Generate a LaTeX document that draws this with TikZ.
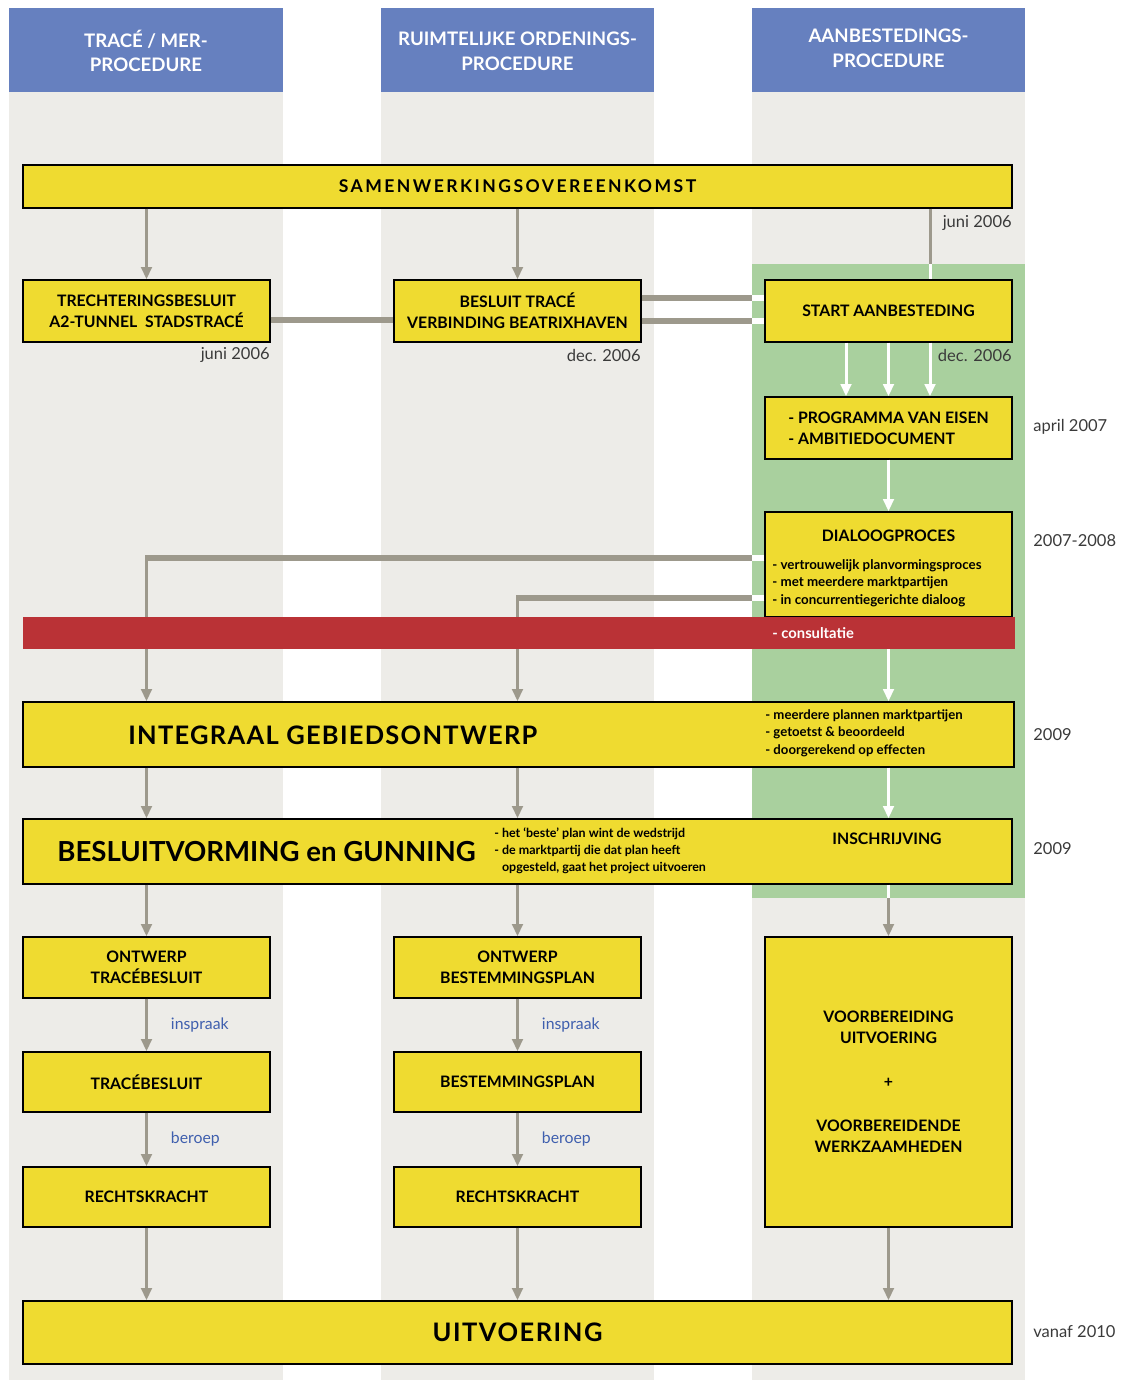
\documentclass[tikz,border=0pt]{standalone}
\usepackage{fontspec}
\setmainfont{Lato}
\usetikzlibrary{arrows.meta,positioning}
\definecolor{kolom}{HTML}{EDECE8}
\definecolor{kop}{HTML}{6680BF}
\definecolor{geel}{HTML}{EFDB30}
\definecolor{groen}{HTML}{A9D09E}
\definecolor{rood}{HTML}{BA3236}
\definecolor{lijn}{HTML}{9D998C}
\definecolor{blauw}{HTML}{3F5FAE}
\definecolor{datumkleur}{HTML}{3A3A3A}

\begin{document}
\begin{tikzpicture}[x=0.02cm,y=-0.02cm,
  blok/.style={draw=black,line width=0.8pt,fill=geel,inner sep=0pt,align=center,
    font=\bfseries\fontsize{9}{12}\selectfont},
  klein/.style={blok,minimum width=4.94cm,minimum height=1.24cm},
  breed/.style={blok,minimum width=19.78cm,minimum height=1.3cm},
  koptekst/.style={text=white,align=center,font=\bfseries\fontsize{10.6}{14}\selectfont},
  groot/.style={anchor=west,inner sep=0pt,font=\bfseries\fontsize{14.5}{18}\selectfont\addfontfeatures{LetterSpace=5}},
  punten/.style={anchor=west,inner sep=0pt,align=left,font=\bfseries\fontsize{7.6}{10}\selectfont},
  datum/.style={inner sep=0pt,text=datumkleur,font=\fontsize{9.4}{10}\selectfont},
  inspr/.style={anchor=west,inner sep=0pt,xshift=0.46cm,text=blauw,font=\fontsize{9}{10}\selectfont},
  pijl/.style={draw=lijn,line width=1.7pt,-{Triangle[width=6pt,length=7pt]}},
  wpijl/.style={pijl,draw=white},
  dunlijn/.style={draw=lijn,line width=1.7pt},
  wdunlijn/.style={draw=white,line width=1.7pt},
  balk/.style={draw=lijn,line width=3.4pt},
  wbalk/.style={draw=white,line width=3.4pt}]
\useasboundingbox (0,0) rectangle (1120,1380);

\foreach \xa/\xb in {9/283,381/654,752/1025} {
  \fill[kolom] (\xa,92) rectangle (\xb,1380);
  \fill[kop] (\xa,8) rectangle (\xb,92);
}
\fill[groen] (752,264) rectangle (1025,898);
\coordinate (gl) at (752,264);
\coordinate (gtop) at (930,264);
\coordinate (gbot) at (888.5,898);

\node[koptekst] (kop1) at (146,51) {TRACÉ / MER-\\PROCEDURE};
\node[koptekst] (kop2) at (517.5,51) {RUIMTELIJKE ORDENINGS-\\PROCEDURE};
\node[koptekst] (kop3) at (888.5,48) {AANBESTEDINGS-\\PROCEDURE};

\node[breed,minimum height=0.86cm,font=\bfseries\fontsize{10}{12}\selectfont\addfontfeatures{LetterSpace=14}] (samen) at (517.5,186.5) {SAMENWERKINGSOVEREENKOMST};
\node[klein] (trech) at (146.5,311) {TRECHTERINGSBESLUIT\\A2-TUNNEL\ \ STADSTRACÉ};
\node[klein] (btrace) at (517.5,311) {BESLUIT TRACÉ\\VERBINDING BEATRIXHAVEN};
\node[klein] (start) at (888.5,311) {START AANBESTEDING};
\node[klein,align=left] (pve) at (888.5,428) {- PROGRAMMA VAN EISEN\\- AMBITIEDOCUMENT};
\node[klein,minimum height=2.1cm] (dialoog) at (888.5,564.5) {};
\node[inner sep=0pt,font=\bfseries\fontsize{9}{12}\selectfont] (diatitel) at (888.5,536) {DIALOOGPROCES};
\node[punten] (diapunten) at (772,583) {- vertrouwelijk planvormingsproces\\- met meerdere marktpartijen\\- in concurrentiegerichte dialoog};

\node[datum,anchor=east] (d1) at (1012,223) {juni 2006};
\node[datum,anchor=east] (d2) at (270,355) {juni 2006};
\node[datum,anchor=east] (d3) at (641,355) {dec. 2006};
\node[datum,anchor=east] (d4) at (1012,355) {dec. 2006};
\node[datum,anchor=west] (d5) at (1033,427) {april 2007};
\node[datum,anchor=west] (d6) at (1033,541) {2007-2008};

\draw[pijl] (samen.south -| trech) -- (trech.north);
\draw[pijl] (samen.south -| btrace) -- (btrace.north);
\draw[dunlijn] (samen.south -| gtop) -- (gtop);
\draw[wdunlijn] (gtop) -- (start.north -| gtop);
\draw[balk] (trech.east |- 0,320) -- (btrace.west |- 0,320);
\foreach \y in {298,321} {
  \draw[balk] (btrace.east |- 0,\y) -- (gl |- 0,\y);
  \draw[wbalk] (gl |- 0,\y) -- (start.west |- 0,\y);
}
\foreach \x in {846,888.5,930}
  \draw[wpijl] (start.south -| \x,0) -- (pve.north -| \x,0);
\draw[wpijl] (pve) -- (dialoog);

\node[breed,minimum width=19.82cm] (integraal) at (518.5,734.5) {};
\node[groot] (inttekst) at (128,735) {INTEGRAAL GEBIEDSONTWERP};
\node[punten,font=\bfseries\fontsize{7.5}{10}\selectfont] (intpunten) at (765,733) {- meerdere plannen marktpartijen\\- getoetst \& beoordeeld\\- doorgerekend op effecten};

% lijnen uit het dialoogproces
\foreach \y/\k in {558/trech,598/btrace} {
  \draw[wbalk] (dialoog.west |- 0,\y) -- (gl |- 0,\y);
  \draw[balk] (gl |- 0,\y) -- ([xshift=-0.8pt]\k |- 0,\y);
  \draw[pijl] ([yshift=1.7pt]\k |- 0,\y) -- (integraal.north -| \k);
}

\node[fill=rood,minimum width=19.84cm,minimum height=0.64cm,inner sep=0pt] (consult) at (519,633) {};
\node[anchor=west,inner sep=0pt,text=white,font=\bfseries\fontsize{8.4}{10}\selectfont] (consulttekst) at (772,633) {- consultatie};
\draw[wpijl] (consult.south -| dialoog) -- (integraal.north -| dialoog);

\node[breed] (besluit) at (517.5,851.5) {};
\node[groot,font=\bfseries\fontsize{15.7}{18}\selectfont] (bestekst) at (57,852) {BESLUITVORMING en GUNNING};
\node[punten,font=\bfseries\fontsize{7.1}{9.8}\selectfont] (bespunten) at (494,851) {- het ‘beste’ plan wint de wedstrijd\\- de marktpartij die dat plan heeft\\\phantom{- }opgesteld, gaat het project uitvoeren};
\node[inner sep=0pt,font=\bfseries\fontsize{9}{12}\selectfont] (inschr) at (887,839) {INSCHRIJVING};
\node[datum,anchor=west] (d7) at (1033,735) {2009};
\node[datum,anchor=west] (d8) at (1033,849) {2009};

\draw[pijl] (integraal.south -| trech) -- (besluit.north -| trech);
\draw[pijl] (integraal.south -| btrace) -- (besluit.north -| btrace);
\draw[wpijl] (integraal.south -| dialoog) -- (besluit.north -| dialoog);

\node[klein,minimum height=1.22cm] (otb) at (146.5,967.5) {ONTWERP\\TRACÉBESLUIT};
\node[klein,minimum height=1.22cm] (obp) at (517.5,967.5) {ONTWERP\\BESTEMMINGSPLAN};
\node[klein,minimum height=1.2cm] (tb) at (146.5,1082) {TRACÉBESLUIT};
\node[klein,minimum height=1.2cm] (bp) at (517.5,1082) {BESTEMMINGSPLAN};
\node[klein,minimum height=1.2cm] (rk1) at (146.5,1197) {RECHTSKRACHT};
\node[klein,minimum height=1.2cm] (rk2) at (517.5,1197) {RECHTSKRACHT};
\node[klein,minimum height=5.8cm] (voorb) at (888.5,1082) {VOORBEREIDING\\UITVOERING\\[13pt]+\\[13pt]VOORBEREIDENDE\\WERKZAAMHEDEN};
\node[breed,minimum height=1.26cm,font=\bfseries\fontsize{14.5}{18}\selectfont\addfontfeatures{LetterSpace=6}] (uitv) at (517.5,1332.5) {UITVOERING};
\node[datum,anchor=west] (d9) at (1033,1332) {vanaf 2010};

\draw[pijl] (besluit.south -| otb) -- (otb.north);
\draw[pijl] (besluit.south -| obp) -- (obp.north);
\draw[wdunlijn] (besluit.south -| gbot) -- (gbot);
\draw[pijl] (gbot) -- (voorb.north);
\draw[pijl] (otb) -- node[inspr] {inspraak} (tb);
\draw[pijl] (obp) -- node[inspr] {inspraak} (bp);
\draw[pijl] (tb) -- node[inspr] {beroep} (rk1);
\draw[pijl] (bp) -- node[inspr] {beroep} (rk2);
\draw[pijl] (rk1) -- (uitv.north -| rk1);
\draw[pijl] (rk2) -- (uitv.north -| rk2);
\draw[pijl] (voorb) -- (uitv.north -| voorb);
\end{tikzpicture}
\end{document}
